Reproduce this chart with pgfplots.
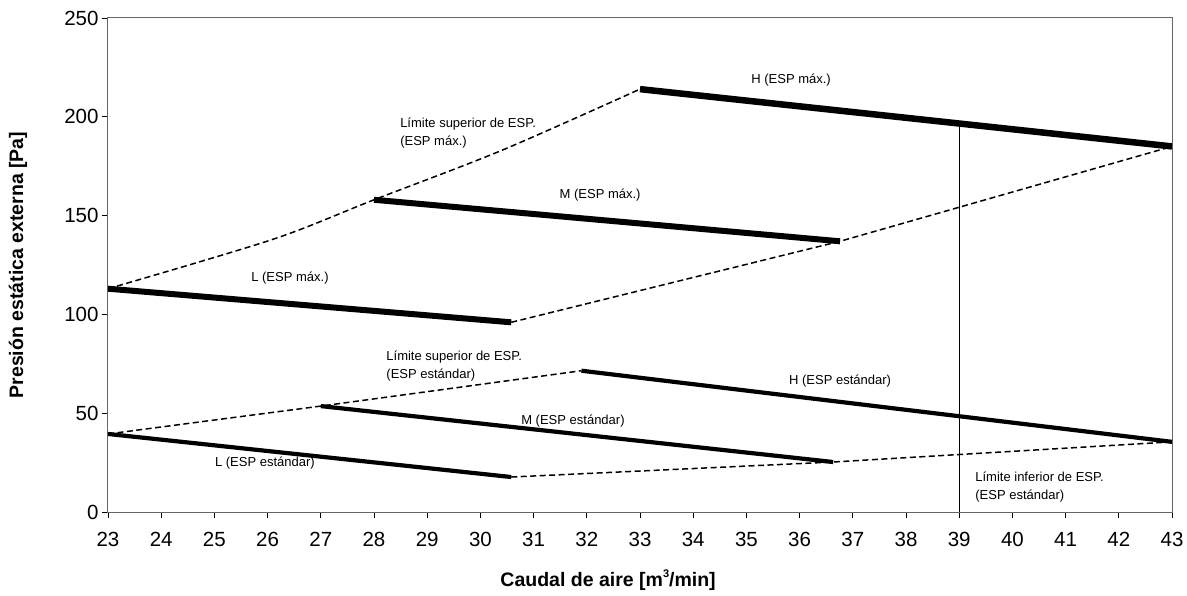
\documentclass[border=0pt]{standalone}
\usepackage{fontspec}
\setmainfont{Liberation Sans}
\usepackage{pgfplots}
\pgfplotsset{compat=1.18}
\begin{document}
\begin{tikzpicture}[lbl/.style={font=\fontsize{13}{17.5}\selectfont, inner sep=0pt}]
\begin{axis}[
	name=ax,
	scale only axis,
	width=1064pt, height=494pt,
	xmin=23, xmax=43, ymin=0, ymax=250,
	xtick={23,24,...,43},
	ytick={0,50,...,250},
	tick align=outside,
	major tick length=6pt,
	tick style={black, line width=0.8pt},
	xtick pos=bottom, ytick pos=left,
	axis line style={black!60, line width=1pt},
	/pgf/number format/assume math mode=true,
	ticklabel style={font=\fontsize{20.5}{24}\selectfont},
	xticklabel style={yshift=-11pt},
	xlabel={Caudal de aire [m\raisebox{0.5em}{\fontsize{11}{11}\selectfont 3}/min]},
	ylabel={Presión estática externa [Pa]},
	label style={font=\bfseries\fontsize{19.5}{22}\selectfont},
	xlabel style={at={(axis description cs:0.47,-0.138)}, anchor=center},
	ylabel style={at={(axis description cs:-0.0846,0.5)}, anchor=center},
	]
% fan curves, maximum ESP
\addplot[black, line width=6.5pt] coordinates {(33,214) (43,185)};
\addplot[black, line width=6pt] coordinates {(28,158) (36.76,137)};
\addplot[black, line width=6pt] coordinates {(23,113) (30.58,96)};
% limits, maximum ESP
\addplot[black, line width=1.5pt, dash pattern=on 6pt off 3.5pt, smooth]
	coordinates {(23,113) (26.1,138) (28,158) (30.4,183) (33,214)};
\addplot[black, line width=1.5pt, dash pattern=on 6pt off 3.5pt]
	coordinates {(30.58,96) (36.76,137) (43,185)};
% fan curves, standard ESP
\addplot[black, line width=4.2pt] coordinates {(31.9,71.5) (43,35.5)};
\addplot[black, line width=4.2pt] coordinates {(27,53.6) (36.63,25.3)};
\addplot[black, line width=4.2pt] coordinates {(23,39.5) (30.58,17.7)};
% limits, standard ESP
\addplot[black, line width=1.5pt, dash pattern=on 6pt off 3.5pt]
	coordinates {(23,39.5) (27,53.6) (31.9,71.5)};
\addplot[black, line width=1.5pt, dash pattern=on 6pt off 3.5pt]
	coordinates {(30.58,17.7) (36.63,25.3) (43,35.5)};
% lower limit at 39 m3/min
\addplot[black, line width=1.3pt] coordinates {(39,0) (39,197)};

\node[lbl, anchor=west, align=left] at (axis cs:28.49,191.8) {Límite superior de ESP.\\(ESP máx.)};
\node[lbl] at (axis cs:35.84,218.6) {H (ESP máx.)};
\node[lbl] at (axis cs:32.25,160.4) {M (ESP máx.)};
\node[lbl] at (axis cs:26.42,118.4) {L (ESP máx.)};
\node[lbl, anchor=west, align=left] at (axis cs:28.23,73.9) {Límite superior de ESP.\\(ESP estándar)};
\node[lbl] at (axis cs:36.76,66.3) {H (ESP estándar)};
\node[lbl] at (axis cs:31.74,46) {M (ESP estándar)};
\node[lbl] at (axis cs:25.95,24.8) {L (ESP estándar)};
\node[lbl, anchor=west, align=left] at (axis cs:39.3,12.7) {Límite inferior de ESP.\\(ESP estándar)};
\end{axis}
\pgfresetboundingbox
\path[use as bounding box] ([xshift=-108pt,yshift=-83pt]ax.south west) rectangle ([xshift=15pt,yshift=18pt]ax.north east);
\end{tikzpicture}
\end{document}
